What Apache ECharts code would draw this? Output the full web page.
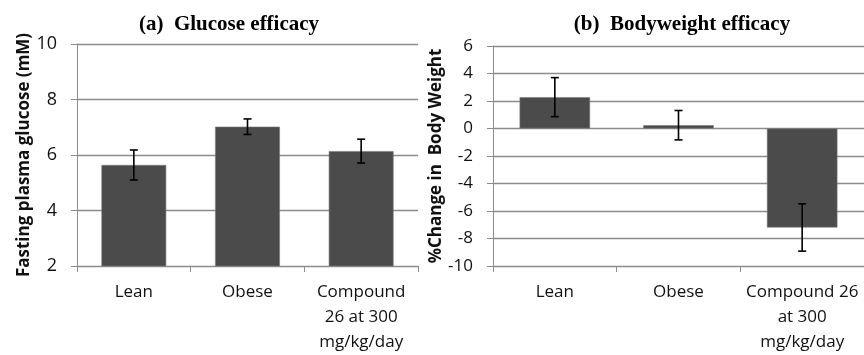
<!DOCTYPE html>
<html><head><meta charset="utf-8">
<script src="https://cdn.jsdelivr.net/npm/echarts@6/dist/echarts.min.js"></script>
<style>html,body{margin:0;padding:0;background:#fff}#c{width:864px;height:355px}</style>
</head><body><div id="c"></div>
<script>
const categoriesA = ['Lean', 'Obese', 'Compound\n26 at 300\nmg/kg/day'];
const categoriesB = ['Lean', 'Obese', 'Compound 26\nat 300\nmg/kg/day'];
const glucose = [5.64, 7.02, 6.14];
const glucoseErr = [0.54, 0.28, 0.43];
const bodyweight = [2.28, 0.24, -7.2];
const bodyweightErr = [1.42, 1.07, 1.72];
const yRangeA = {min: 2, max: 10, interval: 2};
const yRangeB = {min: -10, max: 6, interval: 2};

const sans = 'Open Sans';
const gridColor = '#8c8c8c';
const textColor = '#111';

function errData(vals, errs) { return vals.map((v, i) => [i, v, errs[i]]); }
function renderErr(params, api) {
  const x = api.value(0), v = api.value(1), e = api.value(2);
  const t = api.coord([x, v + e]), b = api.coord([x, v - e]);
  const hw = 4;
  const st = {stroke: '#000', lineWidth: 1.6};
  return {type: 'group', children: [
    {type: 'line', shape: {x1: t[0], y1: t[1], x2: b[0], y2: b[1]}, style: st},
    {type: 'line', shape: {x1: t[0] - hw, y1: t[1], x2: t[0] + hw, y2: t[1]}, style: st},
    {type: 'line', shape: {x1: b[0] - hw, y1: b[1], x2: b[0] + hw, y2: b[1]}, style: st}
  ]};
}
function xAx(cats, idx) {
  return {type: 'category', gridIndex: idx, data: cats,
    axisLine: {onZero: false, lineStyle: {color: gridColor, width: 1}},
    axisTick: {show: true, length: 6, lineStyle: {color: gridColor}},
    axisLabel: {color: textColor, fontFamily: sans, fontSize: 17, lineHeight: 25, margin: 14, interval: 0}};
}
function yAx(r, idx, name, gap, fs) {
  return {type: 'value', gridIndex: idx, min: r.min, max: r.max, interval: r.interval,
    name: name, nameLocation: 'middle', nameRotate: 90, nameGap: gap,
    nameTextStyle: {color: textColor, fontFamily: sans, fontWeight: 'bold', fontSize: 17},
    axisLine: {show: true, lineStyle: {color: gridColor, width: 1}},
    axisTick: {show: true, length: 6, lineStyle: {color: gridColor}},
    splitLine: {show: true, lineStyle: {color: gridColor, width: 1.3}},
    axisLabel: {color: textColor, fontFamily: sans, fontSize: fs, margin: 20}};
}
const barStyle = {color: '#4b4b4b', borderColor: '#7a7a7a', borderWidth: 0.6};

const chart = echarts.init(document.getElementById('c'), null, {renderer: 'canvas'});
chart.setOption({
  animation: false,
  backgroundColor: '#fff',
  title: [
    {text: '(a)  Glucose efficacy', left: 224, top: 9, textAlign: 'center',
     textStyle: {fontFamily: 'Liberation Serif', fontWeight: 'bold', fontSize: 21, color: '#000'}},
    {text: '(b)  Bodyweight efficacy', left: 677, top: 9, textAlign: 'center',
     textStyle: {fontFamily: 'Liberation Serif', fontWeight: 'bold', fontSize: 21, color: '#000'}}
  ],
  grid: [
    {left: 77, right: 446, top: 44, bottom: 85},
    {left: 493, right: 0, top: 46, bottom: 89}
  ],
  xAxis: [xAx(categoriesA, 0), xAx(categoriesB, 1)],
  yAxis: [yAx(yRangeA, 0, 'Fasting plasma glucose (mM)', 43, 18), yAx(yRangeB, 1, '%Change in  Body Weight', 47, 17)],
  series: [
    {type: 'bar', xAxisIndex: 0, yAxisIndex: 0, data: glucose, barCategoryGap: '43%', itemStyle: barStyle},
    {type: 'custom', xAxisIndex: 0, yAxisIndex: 0, data: errData(glucose, glucoseErr), renderItem: renderErr, encode: {x: 0, y: 1}, z: 5},
    {type: 'bar', xAxisIndex: 1, yAxisIndex: 1, data: bodyweight, barCategoryGap: '43%', itemStyle: barStyle},
    {type: 'custom', xAxisIndex: 1, yAxisIndex: 1, data: errData(bodyweight, bodyweightErr), renderItem: renderErr, encode: {x: 0, y: 1}, z: 5}
  ]
});
</script></body></html>
